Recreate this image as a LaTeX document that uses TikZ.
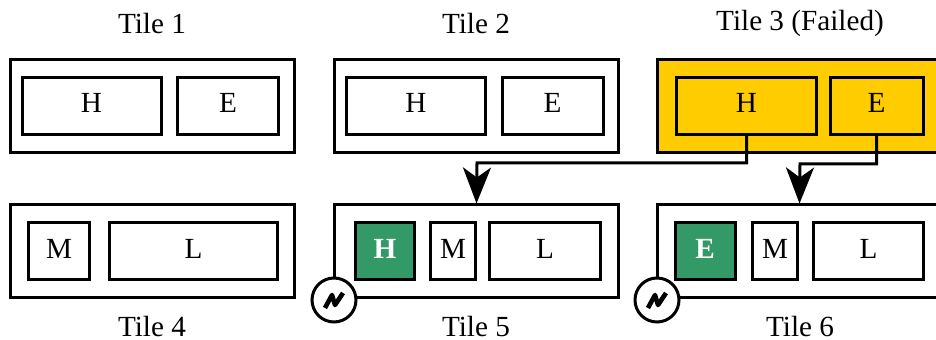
\documentclass[tikz,border=0pt]{standalone}
\usepackage{fontspec}
\setmainfont{Liberation Serif}
\usetikzlibrary{arrows.meta}
\definecolor{failcolor}{HTML}{FFCC00}
\definecolor{newcolor}{HTML}{339966}
\tikzset{
  tile/.style={draw,line width=1.5pt,minimum width=142pt,minimum height=46.5pt,inner sep=0pt},
  slot/.style={draw,line width=1.5pt,minimum height=28.5pt,inner sep=0pt,text depth=3pt},
  title/.style={inner sep=0pt},
  fresh/.style={slot,fill=newcolor,text=white,font=\fontsize{14.6}{16}\selectfont\bfseries},
  power/.style={circle,draw,fill=white,line width=1.5pt,minimum size=22pt,inner sep=0pt},
  move/.style={line width=1.5pt,-{Stealth[length=18pt,width=14pt,inset=5pt]}}
}
\begin{document}
\begin{tikzpicture}[x=.5pt,y=-.5pt,font=\fontsize{14.6}{16}\selectfont]
    \useasboundingbox (0,0) rectangle (936,340);
    % top row
    \node[title] (title1) at (152,23.5) {Tile 1};
    \node[title] (title2) at (476,23.5) {Tile 2};
    \node[title] (title3) at (800,23.5) {Tile 3 (Failed)};
    \node[tile] (tile1) at (152.5,106) {};
    \node[tile] (tile2) at (476.5,106) {};
    \node[tile,fill=failcolor] (tile3) at (799.5,106) {};
    \node[slot,minimum width=69.5pt] (h1) at (91.5,106) {H};
    \node[slot,minimum width=50.5pt] (e1) at (228,106) {E};
    \node[slot,minimum width=69.5pt] (h2) at (416,106) {H};
    \node[slot,minimum width=50.5pt] (e2) at (552.5,106) {E};
    \node[slot,minimum width=70pt] (h3) at (746.5,106) {H};
    \node[slot,minimum width=46.5pt] (e3) at (876.5,106) {E};
    % bottom row
    \node[tile] (tile4) at (152.5,251.5) {};
    \node[tile] (tile5) at (476.5,251.5) {};
    \node[tile] (tile6) at (799.5,251.5) {};
    \node[slot,minimum width=30.5pt] (m4) at (59,251.5) {M};
    \node[slot,minimum width=84pt] (l4) at (193.5,251.5) {L};
    \node[fresh,minimum width=29.5pt] (h5) at (385,251.5) {H};
    \node[slot,minimum width=22.5pt] (m5) at (453,251.5) {M};
    \node[slot,minimum width=55.5pt] (l5) at (545,251.5) {L};
    \node[fresh,minimum width=30pt] (e6) at (705,251.5) {E};
    \node[slot,minimum width=22.5pt] (m6) at (775,251.5) {M};
    \node[slot,minimum width=55pt] (l6) at (868.5,251.5) {L};
    \node[title] (title4) at (152,326.5) {Tile 4};
    \node[title] (title5) at (476,326.5) {Tile 5};
    \node[title] (title6) at (800,326.5) {Tile 6};
    % power gating
    \node[power] (power5) at (334,300) {};
    \node[power] (power6) at (657,300) {};
    \foreach \p in {power5,power6}
      \draw[line width=2.3pt,line join=round]
        (\p.center) ++(-9,8) -- ++(7,-13) -- ++(3,10) -- ++(8,-12);
    % data moved off the failed tile
    \draw[move] (h3.south) |- (477,163) -- (tile5.north);
    \draw[move] (e3.south) |- (800,164) -- (tile6.north);
  \end{tikzpicture}
\end{document}
